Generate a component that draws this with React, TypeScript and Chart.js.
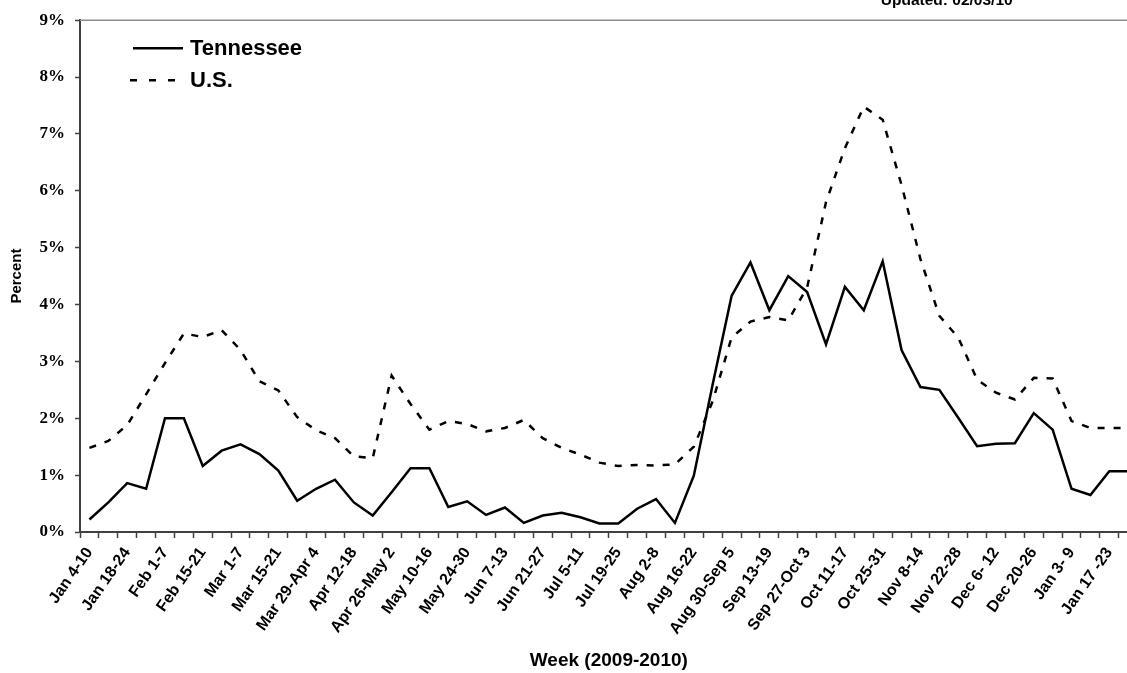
import { useEffect, useRef } from 'react';
import { Chart, registerables } from 'chart.js';

Chart.register(...registerables);

// weeks from Jan 4-10 2009 to Jan 24-30 2010
const weeks = [
  'Jan 4-10', 'Jan 11-17', 'Jan 18-24', 'Jan 25-31', 'Feb 1-7', 'Feb 8-14', 'Feb 15-21', 'Feb 22-28',
  'Mar 1-7', 'Mar 8-14', 'Mar 15-21', 'Mar 22-28', 'Mar 29-Apr 4', 'Apr 5-11', 'Apr 12-18', 'Apr 19-25',
  'Apr 26-May 2', 'May 3-9', 'May 10-16', 'May 17-23', 'May 24-30', 'May 31-Jun 6', 'Jun 7-13', 'Jun 14-20',
  'Jun 21-27', 'Jun 28-Jul 4', 'Jul 5-11', 'Jul 12-18', 'Jul 19-25', 'Jul 26-Aug 1', 'Aug 2-8', 'Aug 9-15',
  'Aug 16-22', 'Aug 23-29', 'Aug 30-Sep 5', 'Sep 6-12', 'Sep 13-19', 'Sep 20-26', 'Sep 27-Oct 3', 'Oct 4-10',
  'Oct 11-17', 'Oct 18-24', 'Oct 25-31', 'Nov 1-7', 'Nov 8-14', 'Nov 15-21', 'Nov 22-28', 'Nov 29-Dec 5',
  'Dec 6- 12', 'Dec 13-19', 'Dec 20-26', 'Dec 27-Jan 2', 'Jan 3- 9', 'Jan 10-16', 'Jan 17 -23', 'Jan 24-30',
];

const tennessee = [
  0.22, 0.52, 0.86, 0.76, 2.0, 2.0, 1.16, 1.43, 1.54, 1.37, 1.08, 0.55, 0.76, 0.92,
  0.52, 0.29, 0.7, 1.12, 1.12, 0.44, 0.54, 0.3, 0.43, 0.16, 0.29, 0.34, 0.26, 0.15,
  0.15, 0.41, 0.58, 0.16, 0.99, 2.6, 4.15, 4.74, 3.9, 4.5, 4.22, 3.3, 4.31, 3.9,
  4.76, 3.2, 2.55, 2.5, 2.01, 1.51, 1.55, 1.56, 2.09, 1.8, 0.76, 0.65, 1.07, 1.07,
];

const us = [
  1.48, 1.6, 1.88, 2.42, 2.97, 3.49, 3.43, 3.55, 3.2, 2.65, 2.49, 2.02, 1.79, 1.65,
  1.33, 1.3, 2.75, 2.25, 1.8, 1.95, 1.9, 1.77, 1.83, 1.97, 1.65, 1.48, 1.36, 1.22,
  1.16, 1.18, 1.17, 1.19, 1.5, 2.3, 3.42, 3.7, 3.78, 3.72, 4.3, 5.8, 6.75, 7.48,
  7.25, 6.1, 4.8, 3.8, 3.42, 2.68, 2.45, 2.33, 2.71, 2.7, 1.95, 1.83, 1.83, 1.83,
];

const usDash = [7, 9];
const axisColor = '#404040';

// legend, top frame line and the cut-off "Updated" note
const decorations = {
  id: 'decorations',
  afterDraw(chart: Chart) {
    const { ctx, chartArea } = chart;
    const { left, top, right } = chartArea;
    ctx.save();
    ctx.strokeStyle = '#8c8c8c';
    ctx.lineWidth = 1.5;
    ctx.beginPath();
    ctx.moveTo(left, top);
    ctx.lineTo(right, top);
    ctx.stroke();

    ctx.strokeStyle = '#000';
    ctx.lineWidth = 2.5;
    ctx.beginPath();
    ctx.moveTo(left + 53, top + 28);
    ctx.lineTo(left + 103, top + 28);
    ctx.stroke();
    ctx.setLineDash([7, 12]);
    ctx.beginPath();
    ctx.moveTo(left + 50, top + 60);
    ctx.lineTo(left + 103, top + 60);
    ctx.stroke();
    ctx.setLineDash([]);

    ctx.fillStyle = '#000';
    ctx.font = 'bold 22px "Liberation Sans", Arial, sans-serif';
    ctx.textBaseline = 'middle';
    ctx.textAlign = 'left';
    ctx.fillText('Tennessee', left + 110, top + 29);
    ctx.fillText('U.S.', left + 110, top + 61);

    ctx.font = 'bold 15.5px "Liberation Sans", Arial, sans-serif';
    ctx.textBaseline = 'alphabetic';
    ctx.textAlign = 'right';
    ctx.fillText('Updated: 02/03/10', right - 125, 5);
    ctx.restore();
  },
};

const App = () => {
  const chartRef = useRef<HTMLCanvasElement>(null);

  useEffect(() => {
    const ctx = chartRef.current?.getContext('2d');
    if (!ctx) return;
    document.body.style.overflow = 'hidden';

    const chart = new Chart(ctx, {
      type: 'line',
      data: {
        labels: weeks,
        datasets: [
          {
            label: 'Tennessee',
            data: tennessee,
            borderColor: '#000',
            borderWidth: 2.5,
            pointRadius: 0,
            tension: 0,
          },
          {
            label: 'U.S.',
            data: us,
            borderColor: '#000',
            borderWidth: 2.5,
            borderDash: usDash,
            pointRadius: 0,
            tension: 0,
          },
        ],
      },
      options: {
        animation: false,
        responsive: true,
        maintainAspectRatio: false,
        layout: { padding: { top: 16, right: 8, bottom: 0, left: 0 } },
        plugins: {
          legend: { display: false },
          tooltip: { enabled: false },
        },
        scales: {
          x: {
            offset: true,
            grid: {
              offset: true,
              drawOnChartArea: false,
              drawTicks: true,
              tickLength: 6,
              tickColor: axisColor,
              tickWidth: 1.5,
            },
            border: { display: true, color: axisColor, width: 2 },
            ticks: {
              autoSkip: false,
              maxRotation: 55,
              minRotation: 55,
              padding: 6,
              color: '#000',
              font: { family: '"Liberation Sans", Arial, sans-serif', size: 16, weight: 'bold' },
              callback: (_v, i) => (i % 2 === 0 ? weeks[i] : ''),
            },
            title: {
              display: true,
              text: 'Week (2009-2010)',
              color: '#000',
              padding: { top: 0, bottom: 1 },
              font: { family: '"Liberation Sans", Arial, sans-serif', size: 19, weight: 'bold' },
            },
            afterFit: (scale) => {
              scale.height = 141;
            },
          },
          y: {
            min: 0,
            max: 9,
            grid: {
              drawOnChartArea: false,
              drawTicks: true,
              tickLength: 5,
              tickColor: axisColor,
              tickWidth: 1.5,
            },
            border: { display: true, color: axisColor, width: 2 },
            ticks: {
              stepSize: 1,
              padding: 10,
              color: '#000',
              font: { family: '"Liberation Serif", "Times New Roman", serif', size: 17, weight: 'bold' },
              callback: (v) => `${v}%`,
            },
            title: {
              display: true,
              text: 'Percent',
              color: '#000',
              padding: { top: 8, bottom: 4 },
              font: { family: '"Liberation Sans", Arial, sans-serif', size: 15, weight: 'bold' },
            },
            afterFit: (scale) => {
              scale.width = 80;
            },
          },
        },
      },
      plugins: [decorations],
    });

    return () => {
      chart.destroy();
    };
  }, []);

  return (
    <div style={{ position: 'fixed', left: 0, top: 0, width: 1150, height: 673, background: '#fff' }}>
      <canvas ref={chartRef} />
    </div>
  );
};

export default App;
